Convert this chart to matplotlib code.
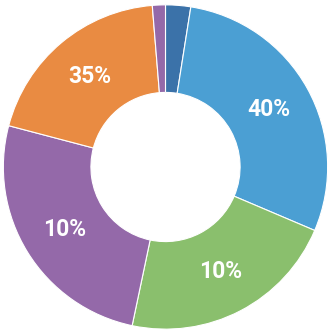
import numpy as np
import matplotlib.pyplot as plt

# slice shares (degrees -> percent), clockwise from top
names = ['dark blue', 'blue', 'green', 'purple', 'orange', 'small purple']
shares = [2.5, 28.9, 21.9, 25.8, 19.6, 1.3]
labels = ['', '40%', '10%', '10%', '35%', '']
colors = ['#3b72a9', '#4b9fd3', '#8abf6d', '#9469a9', '#e98b42', '#9469a9']

fig = plt.figure(figsize=(3.31, 3.34), dpi=100)
ax = fig.add_axes([0, 0, 1, 1])

wedges, _ = ax.pie(shares, colors=colors, startangle=90, counterclock=False,
                   radius=1.0,
                   wedgeprops=dict(width=0.54, edgecolor='white', linewidth=0.8))

for w, lab in zip(wedges, labels):
    if not lab:
        continue
    ang = np.deg2rad((w.theta1 + w.theta2) / 2)
    r = 1.0 - 0.54 / 2
    ax.text(r * np.cos(ang), r * np.sin(ang), lab, ha='center', va='center',
            color='white', fontsize=16.5, fontweight='bold', family='Roboto')

ax.set_xlim(-1.02, 1.02)
ax.set_ylim(-1.03, 1.03)
ax.set_aspect('equal')
ax.axis('off')

fig.savefig('out.png', dpi=100)
